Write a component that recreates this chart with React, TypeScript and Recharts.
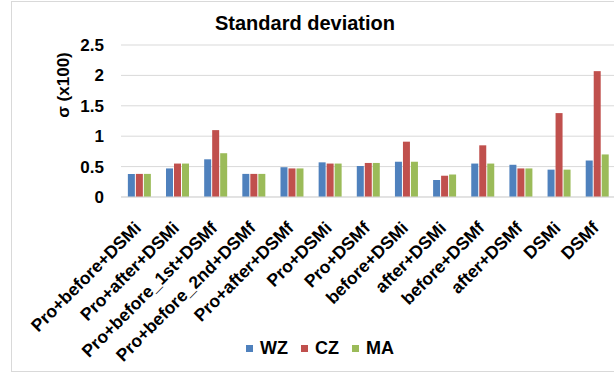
import React from 'react';
import { BarChart, Bar, XAxis, YAxis, CartesianGrid, Legend } from 'recharts';

const categories = [
  'Pro+before+DSMi',
  'Pro+after+DSMi',
  'Pro+before_1st+DSMf',
  'Pro+before_2nd+DSMf',
  'Pro+after+DSMf',
  'Pro+DSMi',
  'Pro+DSMf',
  'before+DSMi',
  'after+DSMi',
  'before+DSMf',
  'after+DSMf',
  'DSMi',
  'DSMf',
];
const wz = [0.38, 0.47, 0.62, 0.38, 0.49, 0.57, 0.51, 0.58, 0.28, 0.55, 0.53, 0.45, 0.6];
const cz = [0.38, 0.55, 1.1, 0.38, 0.47, 0.55, 0.56, 0.91, 0.35, 0.85, 0.47, 1.38, 2.07];
const ma = [0.38, 0.55, 0.72, 0.38, 0.47, 0.55, 0.56, 0.58, 0.37, 0.55, 0.47, 0.45, 0.7];
const yTicks = [0, 0.5, 1, 1.5, 2, 2.5];
const seriesNames = ['WZ', 'CZ', 'MA'];
const colors = ['#4F81BD', '#C0504D', '#9BBB59'];

const data = categories.map((c, i) => ({ name: c, WZ: wz[i], CZ: cz[i], MA: ma[i] }));

const FONT = '"Liberation Sans", Arial, sans-serif';

const XTick = (props: any) => {
  const { x, y, payload } = props;
  return (
    <g transform={`translate(${x + 2},${y + 24})`}>
      <text
        x={0}
        y={0}
        textAnchor="end"
        transform="rotate(-45)"
        fontFamily={FONT}
        fontWeight="bold"
        fontSize={17.5}
        fill="#000"
      >
        {payload.value}
      </text>
    </g>
  );
};

const YTick = (props: any) => {
  const { x, y, payload } = props;
  return (
    <text
      x={x - 17}
      y={y}
      dy={6}
      textAnchor="end"
      fontFamily={FONT}
      fontWeight="bold"
      fontSize={17}
      fill="#000"
    >
      {String(payload.value)}
    </text>
  );
};

const YLabel = (props: any) => {
  const vb = props.viewBox || { x: 0, y: 0 };
  const cx = vb.x + 63;
  const cy = vb.y + 40;
  return (
    <text
      x={cx}
      y={cy}
      transform={`rotate(-90, ${cx}, ${cy})`}
      textAnchor="middle"
      dominantBaseline="central"
      fontFamily={FONT}
      fontWeight="bold"
      fontSize={17}
      fill="#000"
    >
      σ (x100)
    </text>
  );
};

const LegendContent = () => (
  <div
    style={{
      display: 'flex',
      justifyContent: 'flex-start',
      alignItems: 'center',
      paddingLeft: 246,
      fontFamily: FONT,
      fontWeight: 'bold',
      fontSize: 18,
      color: '#000',
    }}
  >
    {seriesNames.map((n, i) => (
      <div key={n} style={{ display: 'flex', alignItems: 'center', marginRight: 13 }}>
        <span
          style={{
            display: 'inline-block',
            width: 7,
            height: 7,
            background: colors[i],
            marginRight: 7,
          }}
        />
        <span>{n}</span>
      </div>
    ))}
  </div>
);

export default function App() {
  return (
    <div
      style={{
        position: 'absolute',
        left: 0,
        top: 0,
        width: 614,
        height: 374,
        overflow: 'hidden',
        background: '#fff',
      }}
    >
      <div
        style={{
          position: 'absolute',
          left: 11,
          top: 1,
          width: 640,
          height: 371,
          border: '1px solid #D9D9D9',
          boxSizing: 'border-box',
        }}
      />
      <div
        style={{
          position: 'absolute',
          left: 0,
          top: 12,
          width: 610,
          textAlign: 'center',
          fontFamily: FONT,
          fontWeight: 'bold',
          fontSize: 20,
          color: '#000',
          zIndex: 2,
        }}
      >
        Standard deviation
      </div>
      <div style={{ position: 'absolute', left: 0, top: 0 }}>
        <BarChart
          width={630}
          height={374}
          data={data}
          margin={{ top: 45, right: 13, bottom: 0, left: 0 }}
          barCategoryGap="18%"
          barGap={1}
        >
          <CartesianGrid vertical={false} stroke="#D9D9D9" strokeWidth={1} />
          <XAxis
            dataKey="name"
            interval={0}
            height={177}
            axisLine={{ stroke: '#D9D9D9' }}
            tickLine={false}
            tick={<XTick />}
          />
          <YAxis
            width={121}
            domain={[0, 2.5]}
            ticks={yTicks}
            axisLine={false}
            tickLine={false}
            tickSize={0}
            tickMargin={0}
            tick={<YTick />}
            label={<YLabel />}
          />
          <Legend
            verticalAlign="bottom"
            content={<LegendContent />}
            wrapperStyle={{ top: 338, left: 0, width: 614, height: 0, overflow: 'visible' }}
          />
          {seriesNames.map((n, i) => (
            <Bar key={n} dataKey={n} fill={colors[i]} isAnimationActive={false} />
          ))}
        </BarChart>
      </div>
    </div>
  );
}
